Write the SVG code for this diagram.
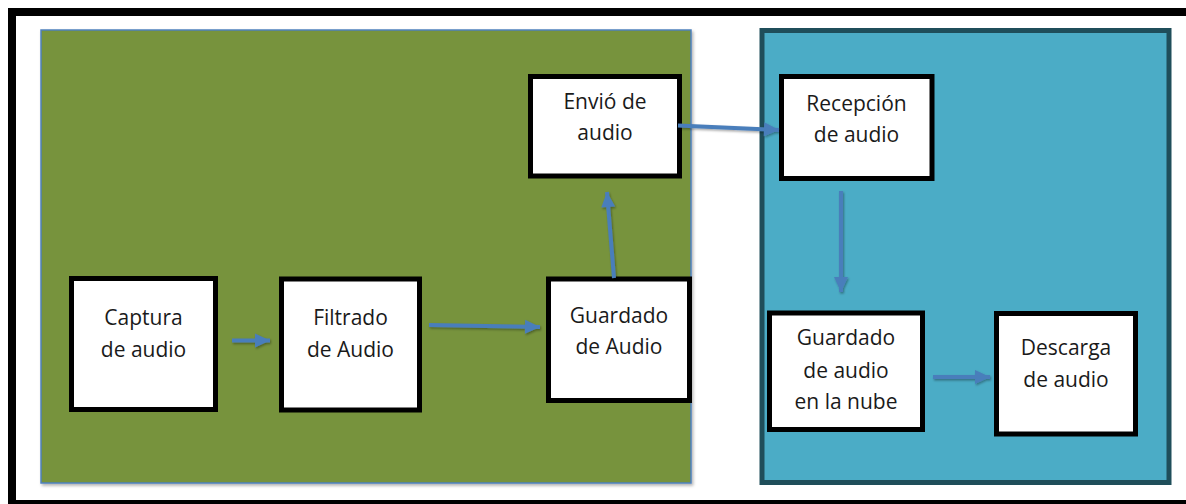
<svg xmlns="http://www.w3.org/2000/svg" width="1186" height="504" viewBox="0 0 1186 504">
  <defs>
    <marker id="ah" markerUnits="userSpaceOnUse" markerWidth="18" markerHeight="18" viewBox="0 0 18 18" refX="16" refY="9" orient="auto">
      <path d="M1,2 L16,9 L1,16 Z" fill="#4a7ebb"/>
    </marker>
    <filter id="sh" x="-5%" y="-5%" width="110%" height="110%">
      <feDropShadow dx="1.5" dy="2" stdDeviation="1.5" flood-color="#000" flood-opacity="0.3"/>
    </filter>
    <filter id="shl" filterUnits="userSpaceOnUse" x="0" y="0" width="1186" height="504">
      <feDropShadow dx="1" dy="1.5" stdDeviation="1.2" flood-color="#000" flood-opacity="0.35"/>
    </filter>
  </defs>
  <style>
    .box { fill: #ffffff; stroke: #000000; stroke-width: 5; }
    .lbl { font-family: "Open Sans", "Noto Sans", sans-serif; font-size: 21px; fill: #1a1a1a; text-anchor: middle; }
    .conn { fill: none; stroke: #4a7ebb; stroke-width: 4; marker-end: url(#ah); }
  </style>
  <rect x="0" y="0" width="1186" height="504" fill="#ffffff"/>
  <rect id="frame" x="12" y="12" width="1178" height="492" fill="none" stroke="#000000" stroke-width="8"/>
  <g id="panel-local">
    <rect x="41" y="30" width="650" height="453" fill="#77933c" stroke="#4f81bd" stroke-width="1.5" filter="url(#sh)"/>
  </g>
  <g id="panel-cloud">
    <rect x="762" y="30.5" width="407" height="452" fill="#4bacc6" stroke="#1f4e5a" stroke-width="5"/>
  </g>

  <g id="node-captura">
    <rect class="box" x="71.5" y="278.5" width="144" height="131"/>
    <text class="lbl" x="143.5" y="325">Captura</text>
    <text class="lbl" x="143.5" y="356.5">de audio</text>
  </g>
  <g id="node-filtrado">
    <rect class="box" x="281.5" y="279" width="138" height="131"/>
    <text class="lbl" x="350.5" y="325">Filtrado</text>
    <text class="lbl" x="350.5" y="356.5">de Audio</text>
  </g>
  <g id="node-guardado">
    <rect class="box" x="548.5" y="279" width="141" height="121.5"/>
    <text class="lbl" x="619" y="322.5">Guardado</text>
    <text class="lbl" x="619" y="353.5">de Audio</text>
  </g>
  <g id="node-envio">
    <rect class="box" x="530.5" y="76.5" width="149" height="99.5"/>
    <text class="lbl" x="605" y="108.5">Envió de</text>
    <text class="lbl" x="605" y="140">audio</text>
  </g>
  <g id="node-recepcion">
    <rect class="box" x="781.5" y="76.5" width="150.5" height="102"/>
    <text class="lbl" x="856.5" y="110.5">Recepción</text>
    <text class="lbl" x="856.5" y="141.5">de audio</text>
  </g>
  <g id="node-nube">
    <rect class="box" x="769.5" y="313" width="153" height="116.5"/>
    <text class="lbl" x="846" y="345">Guardado</text>
    <text class="lbl" x="846" y="377.5">de audio</text>
    <text class="lbl" x="846" y="409">en la nube</text>
  </g>
  <g id="node-descarga">
    <rect class="box" x="996.5" y="313.5" width="139" height="120.5"/>
    <text class="lbl" x="1066" y="355">Descarga</text>
    <text class="lbl" x="1066" y="386.5">de audio</text>
  </g>

  <g id="connectors" filter="url(#shl)">
    <path class="conn" d="M232,340.5 L270,340.5"/>
    <path class="conn" d="M429,325 L540,327"/>
    <path class="conn" d="M614,278 L607,192"/>
    <path class="conn" d="M678,125.5 L779,130"/>
    <path class="conn" d="M841,191 L841,292"/>
    <path class="conn" d="M933,377 L990,377"/>
  </g>
</svg>
